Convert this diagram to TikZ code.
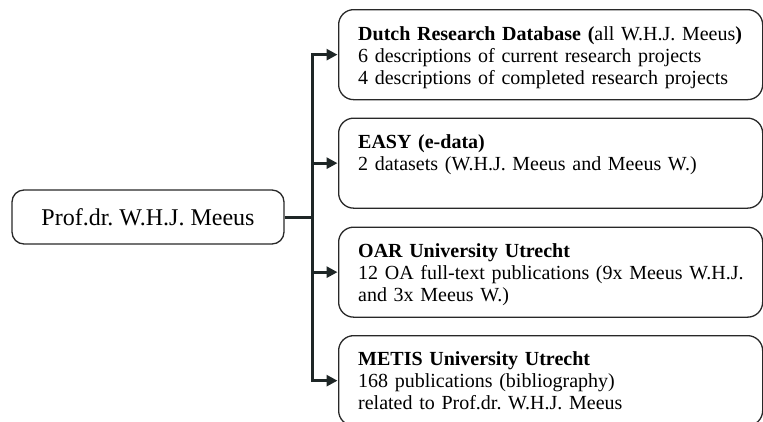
\documentclass[tikz,border=0pt]{standalone}
\usepackage{fontspec}
\setmainfont{Liberation Serif}
\frenchspacing
\usetikzlibrary{arrows.meta}
\definecolor{conncol}{RGB}{30,38,38}
\definecolor{boxcol}{RGB}{40,40,40}
\begin{document}
\begin{tikzpicture}[x=1pt,y=-1pt,
  dbbox/.style={draw=boxcol, line width=1.3pt, rounded corners=15pt, minimum width=424pt, minimum height=90pt, inner sep=0pt, anchor=north west},
  dbtext/.style={anchor=base west, inner sep=0pt, text width=420pt, align=left, font=\fontsize{20}{22}\selectfont\frenchspacing},
  conn/.style={draw=conncol, line width=3pt},
  arr/.style={conn, -{Triangle[length=11pt,width=11pt]}, shorten >=0.5pt}]
\useasboundingbox (0,0) rectangle (763,421);
\clip (0,0) rectangle (763,421);
\node[draw=boxcol, line width=1.3pt, rounded corners=12pt, minimum width=272pt, minimum height=54pt, inner sep=0pt, font=\fontsize{24}{28}\selectfont\frenchspacing] (root) at (148,217) {Prof.dr. W.H.J. Meeus};

\node[dbbox] (b1) at (338,9) {};
\node[dbbox] (b2) at (338,117.5) {};
\node[dbbox] (b3) at (338,226.5) {};
\node[dbbox] (b4) at (338,335) {};

\node[dbtext] (t1) at (358,40) {\textbf{Dutch Research Database (}all W.H.J. Meeus\textbf{)}\\6 descriptions of current research projects\\4 descriptions of completed research projects};
\node[dbtext] (t2) at (358,148.5) {\textbf{EASY (e-data)}\\2 datasets (W.H.J. Meeus and Meeus W.)};
\node[dbtext] (t3) at (358,257) {\textbf{OAR University Utrecht}\\12 OA full-text publications (9x Meeus W.H.J.\\and 3x Meeus W.)};
\node[dbtext] (t4) at (358,365.5) {\textbf{METIS University Utrecht}\\168 publications (bibliography)\\related to Prof.dr. W.H.J. Meeus};

\coordinate (j) at (312,217);
\draw[conn] (root.east) -- (j);
\draw[conn, line cap=rect] (j |- b1.west) -- (j |- b4.west);
\draw[arr] (j |- b1.west) -- (b1.west);
\draw[arr] (j |- b2.west) -- (b2.west);
\draw[arr] (j |- b3.west) -- (b3.west);
\draw[arr] (j |- b4.west) -- (b4.west);
\end{tikzpicture}
\end{document}
